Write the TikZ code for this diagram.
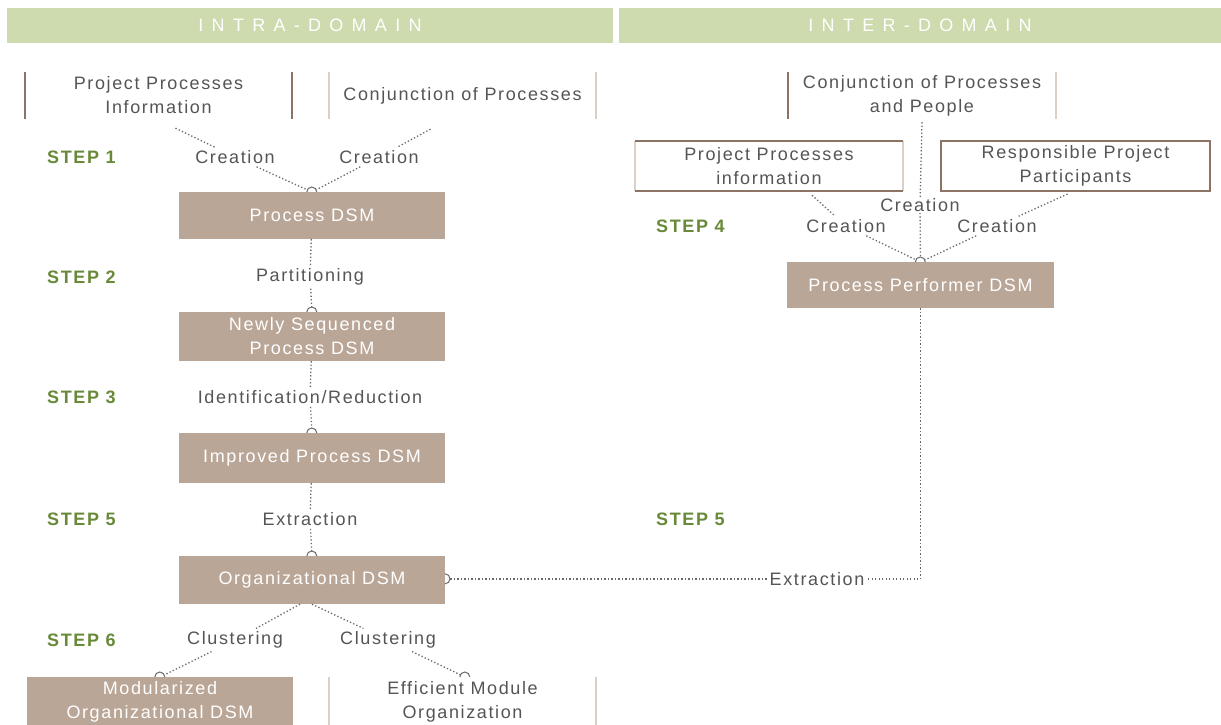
\documentclass[tikz,border=0pt]{standalone}
\usepackage{fontspec}
\setmainfont{Liberation Sans}[LetterSpace=9]
\newfontfamily\hdrfont{Liberation Sans}[LetterSpace=46]
\usetikzlibrary{calc}
\definecolor{hdrgreen}{RGB}{205,219,174}
\definecolor{tanbox}{RGB}{186,166,151}
\definecolor{txtgray}{RGB}{85,85,85}
\definecolor{stepgreen}{RGB}{104,138,56}
\definecolor{brownline}{RGB}{140,115,100}
\definecolor{lightline}{RGB}{218,208,200}
\definecolor{conngray}{RGB}{105,105,105}
\tikzset{
  hdr/.style={fill=hdrgreen, minimum height=35pt, inner sep=0pt, text=white, font=\hdrfont\fontsize{18}{22}\selectfont},
  dsm/.style={fill=tanbox, text=white, minimum width=266pt, minimum height=47pt, align=center, inner sep=0pt},
  txtbox/.style={text=txtgray, minimum width=267pt, minimum height=47pt, align=center, inner sep=0pt},
  lbl/.style={text=txtgray, inner sep=3pt},
  steplbl/.style={text=stepgreen, font=\bfseries\fontsize{18}{22}\selectfont, anchor=west, inner sep=0pt},
  darkline/.style={draw=brownline, line width=2.5pt},
  paleline/.style={draw=lightline, line width=2pt},
  conn/.style={draw=conngray, line width=1.3pt, dash pattern=on 1.3pt off 2.2pt},
  sock/.style={circle, minimum size=10pt, inner sep=0pt},
  sockarc/.style={draw=conngray, line width=1pt},
}
\begin{document}
\begin{tikzpicture}[x=1pt,y=1pt,font=\fontsize{18}{24}\selectfont]
\useasboundingbox (0,0) rectangle (1221,-724);
\fill[white] (0,0) rectangle (1221,-724);

% headers
\node[hdr, minimum width=606pt] (hl) at (310,-25.5) {INTRA-DOMAIN};
\node[hdr, minimum width=602pt] (hr) at (920,-25.5) {INTER-DOMAIN};

% intra-domain inputs
\node[txtbox] (pinfo) at (158.5,-95.5) {Project Processes\\Information};
\draw[darkline] (pinfo.north west) -- (pinfo.south west);
\draw[darkline] (pinfo.north east) -- (pinfo.south east);
\node[txtbox] (cpro) at (462.5,-95.5) {Conjunction of Processes};
\draw[paleline] (cpro.north west) -- (cpro.south west);
\draw[paleline] (cpro.north east) -- (cpro.south east);

% intra-domain DSMs
\node[dsm] (pdsm) at (312,-215.5) {Process DSM};
\node[dsm, minimum height=49pt] (newly) at (312,-336.5) {Newly Sequenced\\Process DSM};
\node[dsm, minimum height=50pt] (impr) at (312,-458) {Improved Process DSM};
\node[dsm, minimum height=48pt] (org) at (312,-580) {Organizational DSM};
\node[dsm, minimum height=50pt] (modu) at (160,-702) {Modularized\\Organizational DSM};
\node[txtbox, minimum height=50pt] (eff) at (462.5,-702) {Efficient Module\\Organization};
\draw[paleline] (eff.north west) -- (eff.south west);
\draw[paleline] (eff.north east) -- (eff.south east);

% inter-domain
\node[txtbox, minimum width=268pt] (conjpp) at (922,-95.5) {Conjunction of Processes\\and People};
\draw[darkline] (conjpp.north west) -- (conjpp.south west);
\draw[paleline] (conjpp.north east) -- (conjpp.south east);
\node[txtbox, minimum width=268pt, minimum height=50pt] (ppinfo) at (769,-166) {Project Processes\\information};
\draw[paleline] (ppinfo.north west) -- (ppinfo.south west);
\draw[paleline] (ppinfo.north east) -- (ppinfo.south east);
\draw[darkline] (ppinfo.north west) -- (ppinfo.north east);
\draw[darkline] (ppinfo.south west) -- (ppinfo.south east);
\node[txtbox, minimum width=269pt, minimum height=50pt, draw=brownline, line width=2pt] (resp) at (1075.5,-166) {Responsible Project\\Participants};
\node[dsm, minimum width=267pt, minimum height=46pt] (ppdsm) at (920.5,-285) {Process Performer DSM};

% step labels
\node[steplbl] (s1) at (47,-157) {STEP 1};
\node[steplbl] (s2) at (47,-277) {STEP 2};
\node[steplbl] (s3) at (47,-397) {STEP 3};
\node[steplbl] (s5a) at (47,-519) {STEP 5};
\node[steplbl] (s6) at (47,-640) {STEP 6};
\node[steplbl] (s4) at (656,-226) {STEP 4};
\node[steplbl] (s5b) at (656,-519) {STEP 5};

% connector labels
\node[lbl] (cr1) at (235,-157) {Creation};
\node[lbl] (cr2) at (379,-157) {Creation};
\node[lbl] (part) at (310,-277) {Partitioning};
\node[lbl] (ident) at (310,-397) {Identification/Reduction};
\node[lbl] (ext1) at (310,-519) {Extraction};
\node[lbl] (cl1) at (235,-640) {Clustering};
\node[lbl] (cl2) at (388,-640) {Clustering};
\node[lbl, inner sep=1pt] (cr3) at (920,-205) {Creation};
\node[lbl] (cr4) at (846,-226) {Creation};
\node[lbl] (cr5) at (997,-226) {Creation};
\node[lbl] (ext2) at (817,-579) {Extraction};

% sockets
\node[sock] (k1) at (312,-192) {};
\node[sock] (k2) at (312,-312) {};
\node[sock] (k3) at (312,-433) {};
\node[sock] (k4) at (312,-556) {};
\node[sock] (k5) at (445,-579) {};
\node[sock] (k6) at (160,-677) {};
\node[sock] (k7) at (465,-677) {};
\node[sock] (k8) at (920.5,-262) {};
\foreach \k in {k1,k2,k3,k4,k6,k7,k8}
  \draw[sockarc] (\k.west) arc[start angle=180, end angle=0, radius=5pt];
\draw[sockarc] (k5.north) arc[start angle=90, end angle=-90, radius=5pt];

% connectors
\draw[conn] ([xshift=17pt,yshift=-9pt]pinfo.south) -- (cr1);
\draw[conn] (cr1) -- (k1);
\draw[conn] ([xshift=-32pt,yshift=-10pt]cpro.south) -- (cr2);
\draw[conn] (cr2) -- (k1);
\draw[conn] (pdsm) -- (part);
\draw[conn] (part) -- (k2);
\draw[conn] (newly) -- (ident);
\draw[conn] (ident) -- (k3);
\draw[conn] (impr) -- (ext1);
\draw[conn] (ext1) -- (k4);
\draw[conn] ([xshift=-12pt]org.south) -- (cl1);
\draw[conn] (cl1) -- (k6);
\draw[conn] (org.south) -- (cl2);
\draw[conn] (cl2) -- (k7);
\draw[conn] ([yshift=-3pt]conjpp.south) -- (cr3);
\draw[conn] (cr3) -- (k8);
\draw[conn] ([xshift=43pt,yshift=-4pt]ppinfo.south) -- (cr4);
\draw[conn] (cr4) -- (k8);
\draw[conn] ([xshift=-8pt,yshift=-2pt]resp.south) -- (cr5);
\draw[conn] (cr5) -- (k8);
\coordinate (corner) at (ppdsm.south |- ext2.east);
\draw[conn] (ppdsm.south) -- (corner) -- (ext2.east);
\draw[conn] (ext2.west) -- (k5);
\end{tikzpicture}
\end{document}
